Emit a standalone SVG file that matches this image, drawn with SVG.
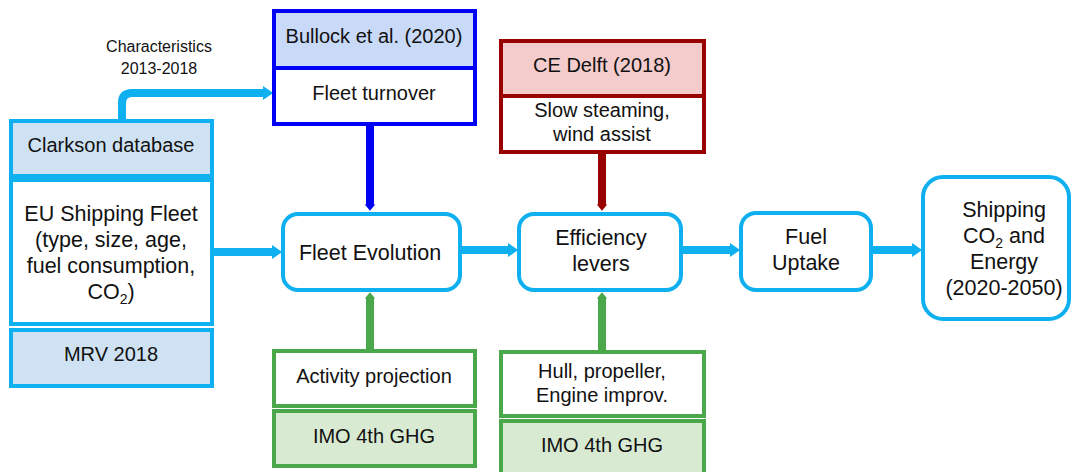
<svg xmlns="http://www.w3.org/2000/svg" width="1071" height="472" viewBox="0 0 1071 472">
<style>
text{font-family:"Liberation Sans",Arial,sans-serif;fill:#111;text-anchor:middle}
.t18{font-size:20px}.t20{font-size:21.5px}.t14{font-size:16px}
.cy{stroke:#0fb0ef;stroke-width:4}
.bl{stroke:#0000f5;stroke-width:4}
.rd{stroke:#990000;stroke-width:4}
.gr{stroke:#4aa84a;stroke-width:4}
.fcy{fill:#cfe2f3}.fw{fill:#fff}.fbl{fill:#c9daf8}.frd{fill:#f4cccc}.fgr{fill:#d9ead3}
.lc{fill:none;stroke-width:8}
</style>
<defs>
<marker id="ac" markerWidth="1.4" markerHeight="2" refX="0.4" refY="1" orient="auto" markerUnits="strokeWidth"><path d="M0,0.1L1.3,1L0,1.9z" fill="#0fb0ef"/></marker>
<marker id="ab" markerWidth="1" markerHeight="1.4" refX="0.2" refY="0.7" orient="auto" markerUnits="strokeWidth"><path d="M0,0.05L0.8,0.7L0,1.35z" fill="#0000f5"/></marker>
<marker id="ar" markerWidth="1" markerHeight="1.4" refX="0.2" refY="0.7" orient="auto" markerUnits="strokeWidth"><path d="M0,0.05L0.8,0.7L0,1.35z" fill="#990000"/></marker>
<marker id="ag" markerWidth="1" markerHeight="1.4" refX="0.2" refY="0.7" orient="auto" markerUnits="strokeWidth"><path d="M0,0.05L0.8,0.7L0,1.35z" fill="#4aa84a"/></marker>
</defs>
<g id="connectors">
<path class="lc" d="M122,121V103Q122,93 132,93H266" stroke="#0fb0ef" marker-end="url(#ac)"/>
<path class="lc" d="M212,252H275" stroke="#0fb0ef" marker-end="url(#ac)"/>
<path class="lc" d="M460,250H511" stroke="#0fb0ef" marker-end="url(#ac)"/>
<path class="lc" d="M681,250H733" stroke="#0fb0ef" marker-end="url(#ac)"/>
<path class="lc" d="M871,250H915" stroke="#0fb0ef" marker-end="url(#ac)"/>
<path class="lc" d="M370,124V206" stroke="#0000f5" marker-end="url(#ab)"/>
<path class="lc" d="M602,152V206" stroke="#990000" marker-end="url(#ar)"/>
<path class="lc" d="M370,350V297" stroke="#4aa84a" marker-end="url(#ag)"/>
<path class="lc" d="M602,350V297" stroke="#4aa84a" marker-end="url(#ag)"/>
<text class="t14" x="159" y="52">Characteristics</text>
<text class="t14" x="159" y="74">2013-2018</text>
</g>
<g id="clarkson"><rect class="cy fcy" x="11" y="121" width="201" height="55"/><text class="t18" x="111" y="152">Clarkson database</text></g>
<g id="eu-fleet"><rect class="cy fw" x="11" y="180" width="201" height="144"/>
<text class="t20" x="111" y="221">EU Shipping Fleet</text>
<text class="t20" x="111" y="247">(type, size, age,</text>
<text class="t20" x="111" y="273">fuel consumption,</text>
<text class="t20" x="111" y="299">CO<tspan font-size="14" dy="5">2</tspan><tspan dy="-5">)</tspan></text></g>
<g id="mrv"><rect class="cy fcy" x="11" y="330" width="201" height="56"/><text class="t18" x="111" y="361">MRV 2018</text></g>
<g id="bullock"><rect class="bl fbl" x="274" y="11" width="201" height="57"/><text class="t18" x="374" y="43">Bullock et al. (2020)</text>
<rect class="bl fw" x="274" y="68" width="201" height="56"/><text class="t18" x="374" y="100">Fleet turnover</text></g>
<g id="cedelft"><rect class="rd frd" x="501" y="41" width="203" height="55"/><text class="t18" x="602" y="72">CE Delft (2018)</text>
<rect class="rd fw" x="501" y="96" width="203" height="56"/><text class="t18" x="602" y="117">Slow steaming,</text><text class="t18" x="602" y="141">wind assist</text></g>
<g id="fleet-evolution"><rect class="cy fw" x="283" y="214" width="177" height="76" rx="15"/><text class="t20" x="370" y="260">Fleet Evolution</text></g>
<g id="efficiency"><rect class="cy fw" x="519" y="214" width="162" height="76" rx="15"/><text class="t20" x="601" y="245">Efficiency</text><text class="t20" x="601" y="271">levers</text></g>
<g id="fuel-uptake"><rect class="cy fw" x="741" y="213" width="130" height="77" rx="15"/><text class="t20" x="806" y="244">Fuel</text><text class="t20" x="806" y="270">Uptake</text></g>
<g id="shipping"><rect class="cy fw" x="923" y="177" width="146" height="142" rx="20"/>
<text class="t20" x="1004" y="217">Shipping</text>
<text class="t20" x="1004" y="243">CO<tspan font-size="14" dy="5">2</tspan><tspan dy="-5"> and</tspan></text>
<text class="t20" x="1004" y="269">Energy</text>
<text class="t20" x="1004" y="295">(2020-2050)</text></g>
<g id="activity"><rect class="gr fw" x="274" y="351" width="201" height="55"/><text class="t18" x="374" y="383">Activity projection</text>
<rect class="gr fgr" x="274" y="411" width="201" height="55"/><text class="t18" x="374" y="443">IMO 4th GHG</text></g>
<g id="hull"><rect class="gr fw" x="501" y="352" width="203" height="64"/><text class="t18" x="602" y="378">Hull, propeller,</text><text class="t18" x="602" y="402">Engine improv.</text>
<rect class="gr fgr" x="501" y="421" width="203" height="55"/><text class="t18" x="602" y="452">IMO 4th GHG</text></g>
</svg>
